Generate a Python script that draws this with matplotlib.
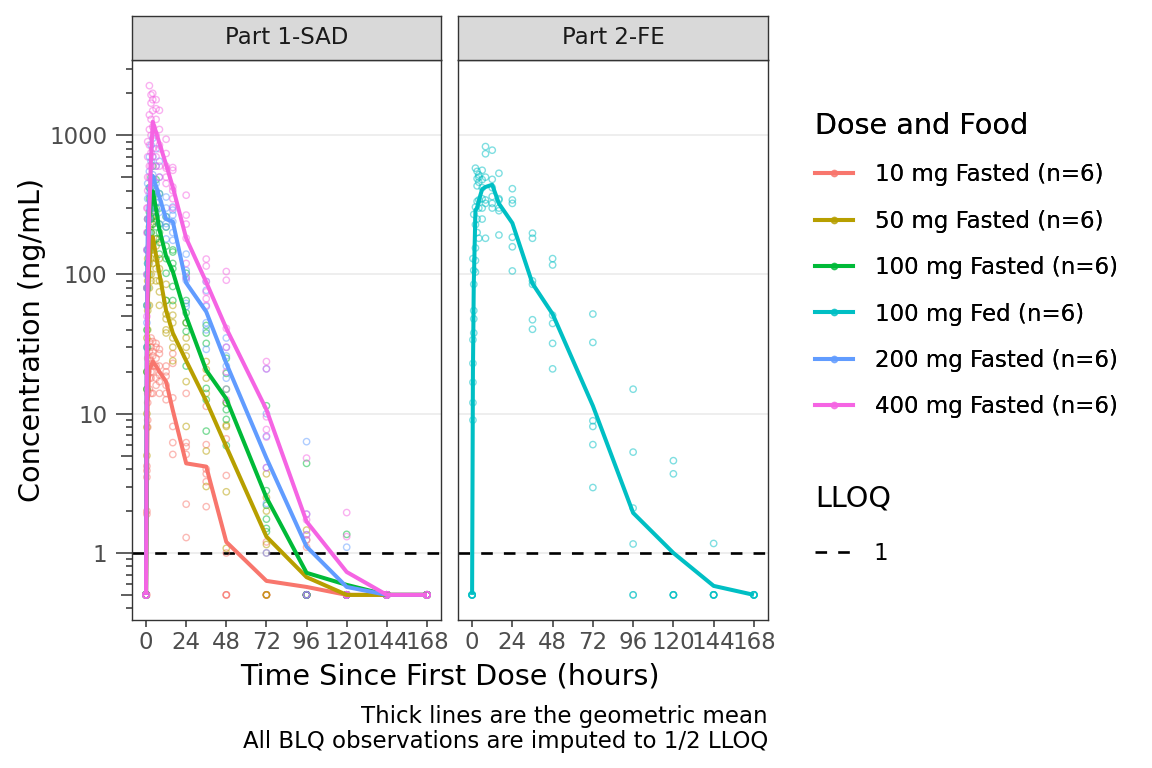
import matplotlib
matplotlib.use("Agg")
import matplotlib.pyplot as plt
from matplotlib.lines import Line2D
from matplotlib.ticker import FixedLocator, NullLocator, NullFormatter

# ---------------- data ----------------
times = [0, 0.5, 1, 2, 3, 4, 6, 8, 12, 16, 24, 36, 48, 72, 96, 120, 144, 168]
x_ticks = [0, 24, 48, 72, 96, 120, 144, 168]
y_major = [1, 10, 100, 1000]
y_major_labels = ["1", "10", "100", "1000"]
panel_titles = ["Part 1-SAD", "Part 2-FE"]

group_labels = ["10 mg Fasted (n=6)", "50 mg Fasted (n=6)", "100 mg Fasted (n=6)",
                "100 mg Fed (n=6)", "200 mg Fasted (n=6)", "400 mg Fasted (n=6)"]
group_colors = ["#F8766D", "#B79F00", "#00BA38", "#00BFC4", "#619CFF", "#F564E3"]
group_panel = [0, 0, 0, 1, 0, 0]
lloq = 1
lloq_label = "1"

# geometric means
gm_10 = [0.5, 2.5, 12, 21, 22, 23.7, 22, 20, 17, 10.6, 4.4, 4.17, 1.2, 0.63, 0.57, 0.5, 0.5, 0.5]
gm_50 = [0.5, 12, 60, 120, 160, 186, 137, 101, 55, 38, 24, 12.3, 5.8, 1.31, 0.67, 0.5, 0.5, 0.5]
gm_100 = [0.5, 35, 130, 250, 330, 395, 295, 210, 135, 105, 50, 20.5, 12.8, 2.5, 0.72, 0.59, 0.5, 0.5]
gm_fed = [0.5, 20, 85, 290, 300, 340, 410, 425, 441, 323, 234, 86, 52, 11.4, 1.94, 1.0, 0.58, 0.5]
gm_200 = [0.5, 50, 200, 380, 450, 510, 430, 360, 250, 240, 87, 54, 23, 4.8, 1.11, 0.57, 0.5, 0.5]
gm_400 = [0.5, 30, 90, 300, 700, 1250, 1050, 875, 615, 425, 182, 88, 41, 10.7, 1.68, 0.73, 0.5, 0.5]

# individual observations (one list per time point)
ind_10 = [
    [0.5, 0.5, 0.5, 0.5, 0.5, 0.5],
    [1.9, 2.0, 3.5, 3.9, 4.2, 0.5],
    [8, 12, 14, 20, 25, 9],
    [15, 22, 28, 33, 18, 25],
    [18, 24, 30, 35, 14, 20],
    [20, 26, 33, 14, 22, 28],
    [16, 22, 30, 25, 18, 32],
    [14, 19, 27, 22, 17, 29],
    [12.6, 14, 18.6, 22, 16, 20],
    [8.1, 6.2, 5.1, 27, 23, 13],
    [6.2, 5.8, 5.1, 2.24, 1.29, 14],
    [4.0, 3.25, 2.15, 3.7, 11.3, 6.0],
    [3.6, 6.6, 1.0, 0.5, 0.5, 0.5],
    [0.5, 0.5, 0.5, 0.5, 1.0, 1.2],
    [0.5, 0.5, 0.5, 0.5, 0.5, 1.1],
    [0.5, 0.5, 0.5, 0.5, 0.5, 0.5],
    [0.5, 0.5, 0.5, 0.5, 0.5, 0.5],
    [0.5, 0.5, 0.5, 0.5, 0.5, 0.5],
]
ind_50 = [
    [0.5, 0.5, 0.5, 0.5, 0.5, 0.5],
    [5, 10, 20, 35, 15, 8],
    [40, 60, 90, 130, 55, 30],
    [80, 120, 160, 220, 100, 60],
    [100, 150, 200, 260, 130, 90],
    [120, 170, 230, 300, 150, 260],
    [90, 130, 180, 240, 110, 160],
    [60, 90, 130, 180, 75, 110],
    [52, 40, 48, 85, 65, 38],
    [24, 51, 35, 45, 30, 60],
    [17, 8.1, 26, 35, 45, 30],
    [23.7, 20.8, 18, 14, 5.4, 3.0],
    [8.3, 8.1, 2.75, 1.08, 12, 15],
    [3.7, 2.5, 2.0, 1.15, 0.5, 0.5],
    [1.46, 1.24, 0.5, 0.5, 0.5, 0.5],
    [0.5, 0.5, 0.5, 0.5, 0.5, 0.5],
    [0.5, 0.5, 0.5, 0.5, 0.5, 0.5],
    [0.5, 0.5, 0.5, 0.5, 0.5, 0.5],
]
ind_100 = [
    [0.5, 0.5, 0.5, 0.5, 0.5, 0.5],
    [20, 40, 60, 15, 30, 80],
    [100, 150, 200, 250, 80, 120],
    [200, 280, 350, 420, 150, 250],
    [250, 330, 420, 500, 200, 300],
    [280, 380, 480, 600, 230, 350],
    [220, 300, 380, 480, 180, 260],
    [170, 230, 300, 380, 140, 200],
    [219, 102, 130, 65, 160, 260],
    [145, 82, 65, 120, 150, 110],
    [53, 45, 39, 22, 65, 102],
    [43, 38, 32, 15.2, 12.6, 7.5],
    [19.5, 12, 10.7, 9.1, 5.9, 25],
    [11.4, 2.8, 1.75, 1.42, 2.2, 1.5],
    [4.4, 0.5, 0.5, 0.5, 0.5, 0.5],
    [1.36, 0.5, 0.5, 0.5, 0.5, 0.5],
    [0.5, 0.5, 0.5, 0.5, 0.5, 0.5],
    [0.5, 0.5, 0.5, 0.5, 0.5, 0.5],
]
ind_fed = [
    [0.5, 0.5, 0.5, 0.5, 0.5, 0.5],
    [9, 12, 16.8, 23, 34, 130],
    [38, 48, 55, 85, 107, 270],
    [104, 126, 155, 228, 305, 580],
    [200, 250, 335, 433, 488, 550],
    [182, 300, 343, 460, 520, 500],
    [250, 300, 350, 420, 480, 560],
    [182, 324, 343, 500, 736, 829],
    [324, 363, 482, 781, 300, 420],
    [192, 287, 343, 533, 350, 300],
    [106, 158, 185, 324, 343, 413],
    [40.4, 47.3, 85, 182, 198, 90],
    [21, 32, 44.5, 51, 117, 130],
    [2.95, 6, 8.1, 8.9, 32.5, 52],
    [0.5, 1.16, 2.1, 5.3, 15, 0.5],
    [4.6, 3.7, 0.5, 0.5, 0.5, 0.5],
    [1.17, 0.5, 0.5, 0.5, 0.5, 0.5],
    [0.5, 0.5, 0.5, 0.5, 0.5, 0.5],
]
ind_200 = [
    [0.5, 0.5, 0.5, 0.5, 0.5, 0.5],
    [30, 60, 100, 150, 45, 80],
    [150, 250, 350, 450, 120, 200],
    [300, 420, 550, 700, 250, 380],
    [350, 480, 650, 850, 300, 420],
    [380, 520, 700, 950, 320, 460],
    [330, 450, 600, 800, 280, 400],
    [280, 380, 500, 650, 230, 330],
    [360, 232, 300, 180, 220, 260],
    [305, 267, 176, 240, 200, 290],
    [107, 91, 59, 62, 140, 95],
    [89, 77, 59, 29, 45, 40],
    [30, 26, 15, 22, 18, 35],
    [21, 10, 6.9, 4.1, 2.27, 1.0],
    [6.3, 1.9, 1.35, 0.5, 0.5, 0.5],
    [1.1, 0.5, 0.5, 0.5, 0.5, 0.5],
    [0.5, 0.5, 0.5, 0.5, 0.5, 0.5],
    [0.5, 0.5, 0.5, 0.5, 0.5, 0.5],
]
ind_400 = [
    [0.5, 0.5, 0.5, 0.5, 0.5, 0.5],
    [50, 100, 200, 300, 80, 150],
    [300, 500, 700, 900, 250, 400],
    [600, 850, 1100, 1400, 500, 2270],
    [750, 1000, 1300, 1700, 600, 1950],
    [800, 1150, 1500, 2000, 700, 1800],
    [700, 1000, 1300, 1800, 600, 1550],
    [600, 850, 1100, 1510, 500, 800],
    [936, 739, 600, 450, 500, 580],
    [586, 425, 350, 400, 300, 560],
    [371, 267, 230, 182, 120, 95],
    [129, 115, 89, 67, 60, 75],
    [105, 91, 41, 30, 20, 12.6],
    [23.7, 21, 9.5, 7.7, 6.8, 4.1],
    [4.8, 1.9, 1.73, 1.24, 0.5, 1.35],
    [1.95, 1.31, 0.5, 0.5, 0.5, 0.5],
    [0.5, 0.5, 0.5, 0.5, 0.5, 0.5],
    [0.5, 0.5, 0.5, 0.5, 0.5, 0.5],
]

group_gm = [gm_10, gm_50, gm_100, gm_fed, gm_200, gm_400]
group_ind = [ind_10, ind_50, ind_100, ind_fed, ind_200, ind_400]

# ---------------- figure ----------------
W, H = 1152, 768
fig = plt.figure(figsize=(W / 100, H / 100), dpi=100)
plt.rcParams['font.family'] = ['DejaVu Sans']

TICK_FS = 16.5
TITLE_FS = 20.6
DARK = "#333333"
LLOQ_LW = 1.9
LLOQ_DASH = (4.4, 4.2)

panel_px = [(132, 441), (458, 768)]
top_px, bot_px = 60, 620
strip_top = 16
axes = []
for i, (l, r) in enumerate(panel_px):
    ax = fig.add_axes([l / W, 1 - bot_px / H, (r - l) / W, (bot_px - top_px) / H])
    ax.set_yscale('log')
    ax.set_ylim(0.33, 3470)
    ax.set_xlim(-8.4, 176.4)
    ax.set_facecolor('white')
    for s in ax.spines.values():
        s.set_color(DARK)
        s.set_linewidth(1.0)
    ax.xaxis.set_major_locator(FixedLocator(x_ticks))
    ax.set_xticklabels([str(t) for t in x_ticks])
    ax.xaxis.set_minor_locator(NullLocator())
    ax.tick_params(axis='x', length=5.2, width=1.1, color=DARK, labelsize=TICK_FS,
                   labelcolor="#4D4D4D", pad=2.5)
    ax.yaxis.set_major_locator(FixedLocator(y_major))
    ax.yaxis.grid(True, which='major', color='#EBEBEB', linewidth=1.2)
    ax.set_axisbelow(True)
    if i == 0:
        ax.set_yticklabels(y_major_labels)
        minors = [m * 10 ** e for e in range(-1, 4) for m in (2, 3, 4, 6, 7, 8, 9)]
        minors = [v for v in minors if 0.33 <= v <= 3470]
        ax.yaxis.set_minor_locator(FixedLocator(minors))
        ax.yaxis.set_minor_formatter(NullFormatter())
        ax.tick_params(axis='y', which='major', length=11.5, width=1.1, color=DARK,
                       labelsize=TICK_FS, labelcolor="#4D4D4D", pad=6.3)
        ax.tick_params(axis='y', which='minor', length=4.3, width=1.1, color=DARK)
        sec = ax.secondary_yaxis('left')
        sec.yaxis.set_major_locator(FixedLocator([0.5, 5, 50, 500]))
        sec.yaxis.set_minor_locator(NullLocator())
        sec.tick_params(axis='y', which='major', length=7.9, width=1.1, color=DARK,
                        labelleft=False)
        sec.spines['left'].set_visible(False)
    else:
        ax.yaxis.set_minor_locator(NullLocator())
        ax.tick_params(axis='y', which='both', left=False, labelleft=False)
    # strip
    sax = fig.add_axes([l / W, 1 - top_px / H, (r - l) / W, (top_px - strip_top) / H])
    sax.set_facecolor('#D9D9D9')
    sax.set_xticks([])
    sax.set_yticks([])
    for s in sax.spines.values():
        s.set_color(DARK)
        s.set_linewidth(1.0)
    sax.text(0.5, 0.5, panel_titles[i], ha='center', va='center', fontsize=TICK_FS,
             color='#1A1A1A', transform=sax.transAxes)
    ax.axhline(lloq, color='black', linewidth=LLOQ_LW, dashes=LLOQ_DASH, zorder=2)
    axes.append(ax)

# points
for g in range(6):
    ax = axes[group_panel[g]]
    xs, ys = [], []
    for t, vals in zip(times, group_ind[g]):
        for v in vals:
            xs.append(t)
            ys.append(v)
    ax.scatter(xs, ys, s=21, facecolors='none', edgecolors=group_colors[g],
               linewidths=1.0, alpha=0.5, zorder=3)
# mean lines
for g in range(6):
    ax = axes[group_panel[g]]
    ax.plot(times, group_gm[g], color=group_colors[g], linewidth=2.9, zorder=4,
            solid_joinstyle='round', solid_capstyle='butt')

# labels
fig.text(450 / W, 1 - 676 / H, "Time Since First Dose (hours)", ha='center', va='center',
         fontsize=TITLE_FS)
fig.text(32 / W, 1 - 340 / H, "Concentration (ng/mL)", ha='center', va='center',
         rotation=90, fontsize=TITLE_FS)
fig.text(768 / W, 1 - 729 / H,
         "Thick lines are the geometric mean\nAll BLQ observations are imputed to 1/2 LLOQ",
         ha='right', va='center', fontsize=TICK_FS, linespacing=1.12)

# legends
handles = []
for g in range(6):
    ln = Line2D([], [], color=group_colors[g], linewidth=2.9)
    pt = Line2D([], [], color=group_colors[g], marker='o', markersize=4.5, linestyle='None',
                alpha=0.5)
    handles.append((ln, pt))
leg1 = fig.legend(handles, group_labels, loc='upper left', bbox_to_anchor=(815 / W, 1 - 112 / H),
                  frameon=False, title="Dose and Food", title_fontsize=TITLE_FS,
                  fontsize=TICK_FS, handlelength=1.65, handletextpad=0.95, labelspacing=1.02,
                  alignment='left', borderpad=0, borderaxespad=0)
leg2 = fig.legend([Line2D([], [], color='black', linewidth=LLOQ_LW, dashes=LLOQ_DASH)],
                  [lloq_label],
                  loc='upper left', bbox_to_anchor=(815 / W, 1 - 484 / H),
                  frameon=False, title="LLOQ", title_fontsize=TITLE_FS,
                  fontsize=TICK_FS, handlelength=1.55, handletextpad=1.0, labelspacing=1.3,
                  alignment='left', borderpad=0, borderaxespad=0)
fig.add_artist(leg1)

fig.savefig("out.png", dpi=100)
